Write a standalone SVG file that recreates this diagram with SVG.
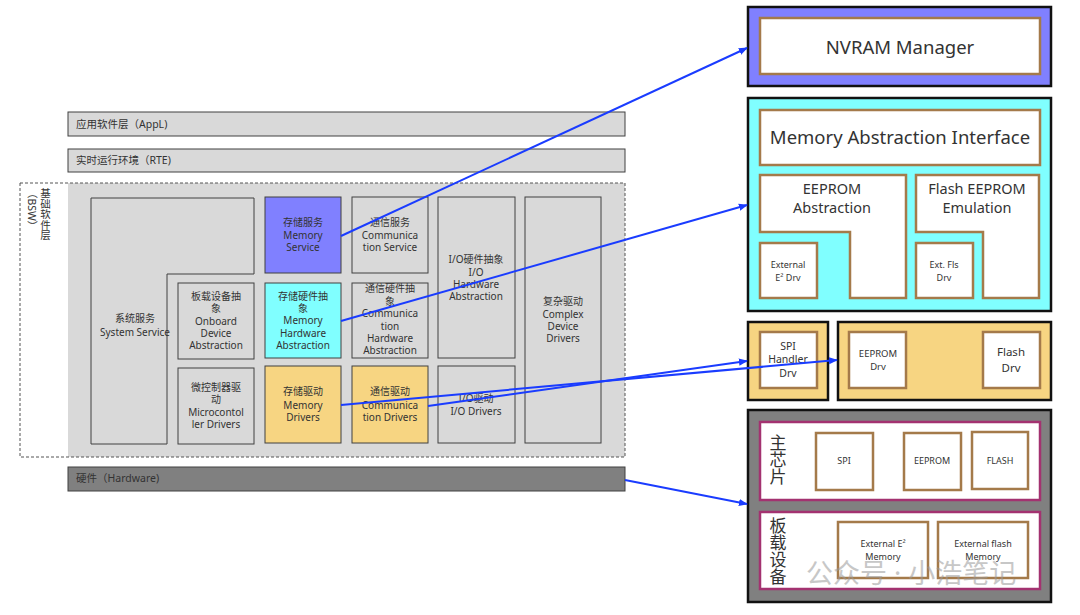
<svg xmlns="http://www.w3.org/2000/svg" width="1080" height="615" viewBox="0 0 1080 615">
<defs>
<style>
text{font-family:"Noto Sans","Noto Sans CJK SC",sans-serif;fill:#333}
.t{font-size:10px;text-anchor:middle}
.bar{font-size:10.5px}
.lay{fill:#d9d9d9;stroke:#404040;stroke-width:1}
.box{stroke:#404040;stroke-width:1}
.g{fill:#d9d9d9}
.pu{fill:#8080ff}
.cy{fill:#80ffff}
.ye{fill:#f7d582}
.outer{stroke:#111;stroke-width:2.5}
.br{fill:#fff;stroke:#a47a4a;stroke-width:2.5}
.mg{fill:#fff;stroke:#a33270;stroke-width:2.5}
.big{font-size:18.5px;text-anchor:middle}
.mid{font-size:14.5px;text-anchor:middle}
.sm{font-size:9px;text-anchor:middle}
.vt{font-size:17px;writing-mode:vertical-rl}
.conn{fill:none;stroke:#1a3cff;stroke-width:2}
</style>
<marker id="ah" viewBox="0 0 10 10" refX="9" refY="5" markerWidth="9" markerHeight="9" markerUnits="userSpaceOnUse" orient="auto">
<path d="M0,1 L10,5 L0,9 z" fill="#1a3cff"/>
</marker>
</defs>

<g id="appl"><rect x="68" y="112" width="557" height="24" class="lay"/><text x="76" y="128" class="bar">应用软件层（AppL)</text></g>
<g id="rte"><rect x="68" y="149" width="557" height="23" class="lay"/><text x="76" y="164" class="bar">实时运行环境（RTE)</text></g>

<g id="bsw">
<rect x="68" y="183" width="557" height="274" fill="#d9d9d9"/>
<rect x="20" y="183" width="605" height="274" fill="none" stroke="#555" stroke-width="1" stroke-dasharray="3,2"/>
<text x="45" y="188" class="bar" style="writing-mode:vertical-rl">基础软件层</text>
<text x="32" y="188" class="bar" style="writing-mode:vertical-rl">（BSW）</text>
</g>

<g id="system-service"><path d="M91,198 H254 V274 H167 V444 H91 Z" class="box g"/><text class="t" x="135" y="322">系统服务</text><text class="t" x="135" y="336">System Service</text></g>
<g id="onboard"><rect x="178" y="283" width="76" height="76" class="box g"/><text class="t"><tspan x="216" y="300">板载设备抽</tspan><tspan x="216" y="312">象</tspan><tspan x="216" y="325">Onboard</tspan><tspan x="216" y="337">Device</tspan><tspan x="216" y="349">Abstraction</tspan></text></g>
<g id="mcu"><rect x="178" y="368" width="76" height="76" class="box g"/><text class="t"><tspan x="216" y="391">微控制器驱</tspan><tspan x="216" y="403">动</tspan><tspan x="216" y="416">Microcontol</tspan><tspan x="216" y="428">ler Drivers</tspan></text></g>

<g id="mem-service"><rect x="265" y="197" width="76" height="76" class="box pu"/><text class="t"><tspan x="303" y="226">存储服务</tspan><tspan x="303" y="239">Memory</tspan><tspan x="303" y="251">Service</tspan></text></g>
<g id="mem-hw"><rect x="265" y="283" width="76" height="75" class="box cy"/><text class="t"><tspan x="303" y="300">存储硬件抽</tspan><tspan x="303" y="312">象</tspan><tspan x="303" y="324">Memory</tspan><tspan x="303" y="337">Hardware</tspan><tspan x="303" y="349">Abstraction</tspan></text></g>
<g id="mem-drv"><rect x="265" y="366" width="76" height="77" class="box ye"/><text class="t"><tspan x="303" y="395">存储驱动</tspan><tspan x="303" y="409">Memory</tspan><tspan x="303" y="421">Drivers</tspan></text></g>

<g id="com-service"><rect x="352" y="197" width="76" height="76" class="box g"/><text class="t"><tspan x="390" y="226">通信服务</tspan><tspan x="390" y="239">Communica</tspan><tspan x="390" y="251">tion Service</tspan></text></g>
<g id="com-hw"><rect x="352" y="283" width="76" height="75" class="box g"/><text class="t"><tspan x="390" y="292">通信硬件抽</tspan><tspan x="390" y="305">象</tspan><tspan x="390" y="317">Communica</tspan><tspan x="390" y="330">tion</tspan><tspan x="390" y="342">Hardware</tspan><tspan x="390" y="354">Abstraction</tspan></text></g>
<g id="com-drv"><rect x="352" y="366" width="76" height="77" class="box ye"/><text class="t"><tspan x="390" y="395">通信驱动</tspan><tspan x="390" y="409">Communica</tspan><tspan x="390" y="421">tion Drivers</tspan></text></g>

<g id="io-hw"><rect x="438" y="197" width="77" height="161" class="box g"/><text class="t"><tspan x="476" y="263">I/O硬件抽象</tspan><tspan x="476" y="276">I/O</tspan><tspan x="476" y="288">Hardware</tspan><tspan x="476" y="300">Abstraction</tspan></text></g>
<g id="io-drv"><rect x="438" y="366" width="77" height="77" class="box g"/><text class="t"><tspan x="476" y="402">I/O驱动</tspan><tspan x="476" y="415">I/O Drivers</tspan></text></g>
<g id="complex"><rect x="525" y="197" width="76" height="246" class="box g"/><text class="t"><tspan x="563" y="305">复杂驱动</tspan><tspan x="563" y="318">Complex</tspan><tspan x="563" y="330">Device</tspan><tspan x="563" y="342">Drivers</tspan></text></g>

<g id="hardware"><rect x="68" y="467" width="557" height="24" class="lay" style="fill:#808080"/><text x="76" y="482" class="bar">硬件（Hardware)</text></g>

<g id="nvram">
<rect x="748" y="7" width="303" height="79" class="outer pu"/>
<rect x="760" y="18" width="280" height="56" class="br"/>
<text class="big" x="900" y="54">NVRAM Manager</text>
</g>

<g id="mem-abs">
<rect x="748" y="98" width="303" height="213" class="outer cy"/>
<g id="mai"><rect x="760" y="110" width="280" height="55" class="br"/><text class="big" x="900" y="144">Memory Abstraction Interface</text></g>
<g id="eeprom-abs"><path d="M760,175 H906 V298 H850 V232 H760 Z" class="br"/><text class="mid"><tspan x="832" y="194">EEPROM</tspan><tspan x="832" y="213">Abstraction</tspan></text></g>
<g id="ext-e2-drv"><rect x="760" y="243" width="57" height="55" class="br"/><text class="sm"><tspan x="788" y="268">External</tspan><tspan x="788" y="281">E² Drv</tspan></text></g>
<g id="flash-eep"><path d="M916,175 H1039 V298 H983 V232 H916 Z" class="br"/><text class="mid"><tspan x="977" y="194">Flash EEPROM</tspan><tspan x="977" y="213">Emulation</tspan></text></g>
<g id="ext-fls-drv"><rect x="916" y="243" width="57" height="55" class="br"/><text class="sm"><tspan x="944" y="268">Ext. Fls</tspan><tspan x="944" y="281">Drv</tspan></text></g>
</g>

<g id="spi-handler">
<rect x="748" y="322" width="80" height="78" class="outer ye"/>
<rect x="760" y="332" width="57" height="56" class="br"/>
<text class="t" style="font-size:10.5px"><tspan x="788" y="350">SPI</tspan><tspan x="788" y="363">Handler</tspan><tspan x="788" y="377">Drv</tspan></text>
</g>

<g id="mem-drivers">
<rect x="838" y="322" width="213" height="78" class="outer ye"/>
<g id="eeprom-drv"><rect x="849" y="332" width="57" height="56" class="br"/><text class="t" style="font-size:9.5px"><tspan x="878" y="357">EEPROM</tspan><tspan x="878" y="370">Drv</tspan></text></g>
<g id="flash-drv"><rect x="983" y="332" width="57" height="56" class="br"/><text class="t" style="font-size:11.5px"><tspan x="1011" y="356">Flash</tspan><tspan x="1011" y="372">Drv</tspan></text></g>
</g>

<g id="hw-right">
<rect x="748" y="410" width="303" height="192" class="outer" fill="#808080"/>
<g id="main-chip">
<rect x="760" y="422" width="280" height="78" class="mg"/>
<text class="vt" x="777" y="434">主芯片</text>
<g id="hw-spi"><rect x="816" y="433" width="57" height="57" class="br"/><text class="sm" x="844" y="464">SPI</text></g>
<g id="hw-eeprom"><rect x="904" y="433" width="57" height="57" class="br"/><text class="sm" x="932" y="464">EEPROM</text></g>
<g id="hw-flash"><rect x="972" y="432" width="56" height="57" class="br"/><text class="sm" x="1000" y="464">FLASH</text></g>
</g>
<g id="onboard-dev">
<rect x="760" y="512" width="280" height="77" class="mg"/>
<text class="vt" x="777" y="517">板载设备</text>
<g id="ext-e2-mem"><rect x="838" y="522" width="90" height="56" class="br"/><text class="sm"><tspan x="883" y="547">External E²</tspan><tspan x="883" y="560">Memory</tspan></text></g>
<g id="ext-flash-mem"><rect x="938" y="522" width="90" height="56" class="br"/><text class="sm"><tspan x="983" y="547">External flash</tspan><tspan x="983" y="560">Memory</tspan></text></g>
</g>
</g>

<text x="806" y="583" style="font-size:27px;fill:#9a9a9a;opacity:0.55">公众号 · 小浩笔记</text>

<g id="connectors">
<line x1="341" y1="236" x2="747" y2="48" class="conn" marker-end="url(#ah)"/>
<line x1="341" y1="321" x2="747" y2="205" class="conn" marker-end="url(#ah)"/>
<line x1="341" y1="405" x2="837" y2="360" class="conn" marker-end="url(#ah)"/>
<line x1="428" y1="406" x2="747" y2="361" class="conn" marker-end="url(#ah)"/>
<line x1="625" y1="480" x2="747" y2="504" class="conn" marker-end="url(#ah)"/>
</g>
</svg>
